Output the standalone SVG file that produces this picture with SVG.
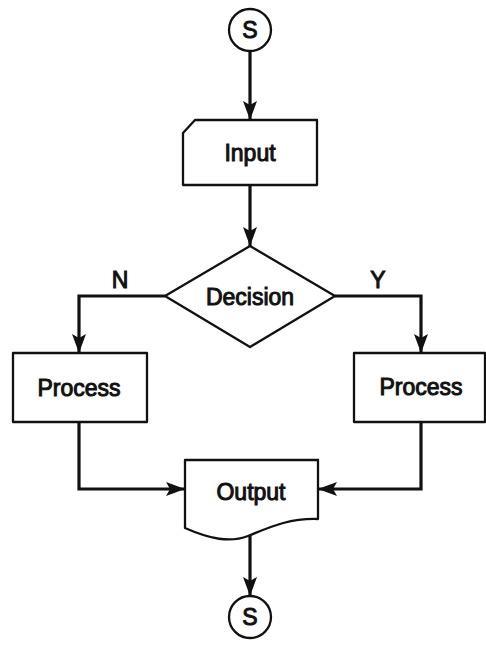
<svg xmlns="http://www.w3.org/2000/svg" width="486" height="645" viewBox="0 0 486 645">
<style>
.shape{fill:#fff;stroke:#111;stroke-width:2.3;stroke-linejoin:round}
.conn{fill:none;stroke:#111;stroke-width:3.2}
.lbl{font-family:"Liberation Sans",Arial,sans-serif;font-size:23px;fill:#111;stroke:#111;stroke-width:1;text-anchor:middle}
</style>
<defs>
<marker id="ah" markerUnits="userSpaceOnUse" markerWidth="20" markerHeight="14" refX="19" refY="7" orient="auto">
<path d="M0,0 L19,7 L0,14 L4,7 z" fill="#111"/>
</marker>
</defs>
<rect width="486" height="645" fill="#fff"/>
<g id="connectors">
<line class="conn" x1="250" y1="51" x2="250" y2="120" marker-end="url(#ah)"/>
<line class="conn" x1="250" y1="185" x2="250" y2="246" marker-end="url(#ah)"/>
<polyline class="conn" points="165,296 79,296 79,353" marker-end="url(#ah)"/>
<polyline class="conn" points="335,296 421,296 421,353" marker-end="url(#ah)"/>
<polyline class="conn" points="79,422 79,489 185,489" marker-end="url(#ah)"/>
<polyline class="conn" points="421,422 421,489 318,489" marker-end="url(#ah)"/>
<line class="conn" x1="250" y1="536" x2="250" y2="596" marker-end="url(#ah)"/>
</g>
<g id="start">
<circle class="shape" cx="250" cy="30" r="21"/>
<text class="lbl" x="250" y="38">S</text>
</g>
<g id="input">
<path class="shape" d="M195,120 H317 V185 H183 V133 Z"/>
<text class="lbl" x="250" y="161">Input</text>
</g>
<g id="decision">
<path class="shape" d="M250,246 L335,296 L250,347 L165,296 Z"/>
<text class="lbl" x="250" y="305">Decision</text>
</g>
<g id="label-n"><text class="lbl" x="120" y="288">N</text></g>
<g id="label-y"><text class="lbl" x="378" y="288">Y</text></g>
<g id="process-left">
<rect class="shape" x="13" y="353" width="134" height="69"/>
<text class="lbl" x="79" y="396">Process</text>
</g>
<g id="process-right">
<rect class="shape" x="354" y="353" width="131" height="69"/>
<text class="lbl" x="421" y="395">Process</text>
</g>
<g id="output">
<path class="shape" d="M185,460 H318 V519 C288,518 268,528 248,536 C230,543 210,539 185,528 Z"/>
<text class="lbl" x="251" y="500">Output</text>
</g>
<g id="end">
<circle class="shape" cx="250" cy="617" r="21"/>
<text class="lbl" x="250" y="625">S</text>
</g>
</svg>
